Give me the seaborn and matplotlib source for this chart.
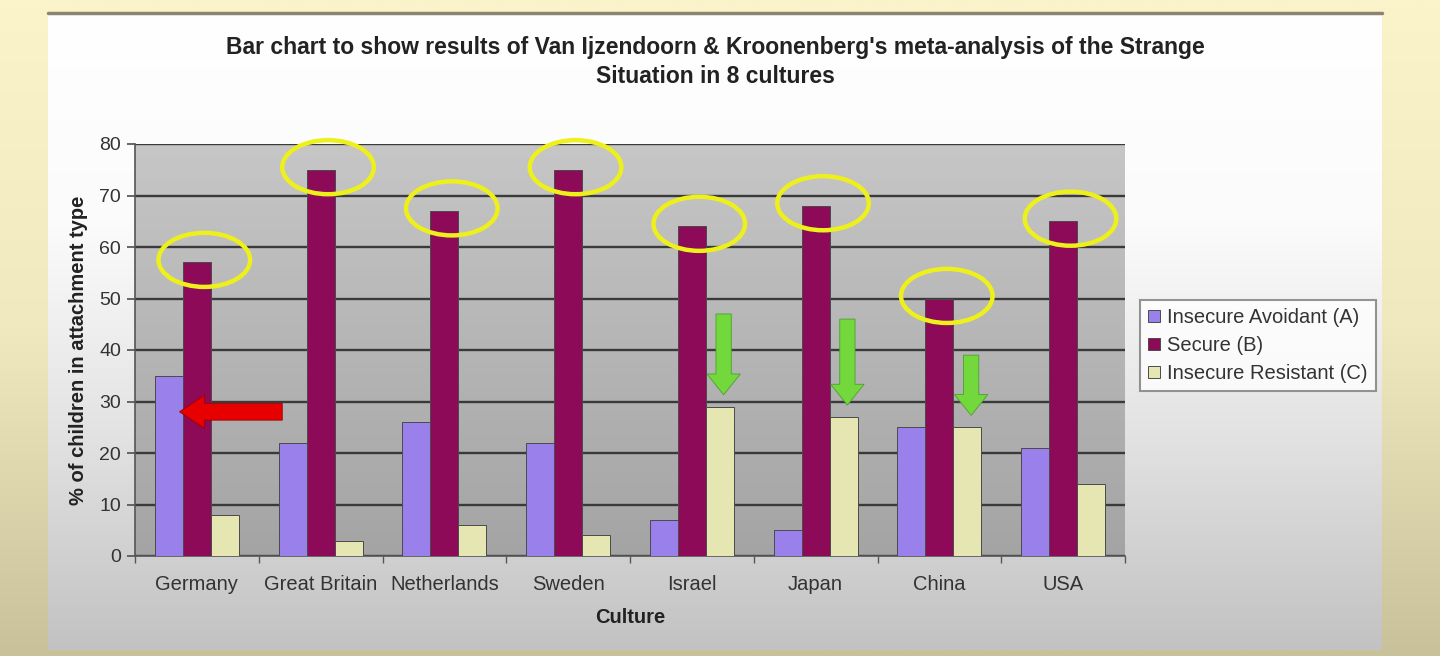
import numpy as np
import pandas as pd
import matplotlib
matplotlib.use("Agg")
import matplotlib.pyplot as plt
import seaborn as sns
from matplotlib.patches import Ellipse, FancyArrowPatch, ArrowStyle
from matplotlib.colors import LinearSegmentedColormap

# data
cultures = ["Germany", "Great Britain", "Netherlands", "Sweden",
            "Israel", "Japan", "China", "USA"]
avoidant = [35, 22, 26, 22, 7, 5, 25, 21]
secure = [57, 75, 67, 75, 64, 68, 50, 65]
resistant = [8, 3, 6, 4, 29, 27, 25, 14]
types = ["Insecure Avoidant (A)", "Secure (B)", "Insecure Resistant (C)"]
colors = ["#9a80ea", "#8c0a58", "#e6e6b2"]

# hand-drawn marks on the slide
red_arrow_at = ("Germany", 28)           # points at the avoidant bar
green_arrows = {"Israel": 47, "Japan": 46, "China": 39}   # tail height above resistant bar

df = pd.DataFrame({
    "Culture": cultures * 3,
    "pct": avoidant + secure + resistant,
    "Type": [t for t in types for _ in cultures],
})

sns.set_theme(style="white")
plt.rcParams["font.family"] = ["Liberation Sans", "DejaVu Sans"]

W, H = 1440, 656
fig = plt.figure(figsize=(W / 100, H / 100), dpi=100)

# slide background (yellow gradient)
bg = fig.add_axes([0, 0, 1, 1], zorder=-10)
bg_cmap = LinearSegmentedColormap.from_list("bg", ["#c9c199", "#f0e8bf", "#fbf3c9"])
bg.imshow(np.linspace(0, 1, 256)[:, None], cmap=bg_cmap, aspect="auto",
          origin="lower", extent=[0, 1, 0, 1])
bg.axis("off")

# chart panel (white -> grey)
px0, px1, py0, py1 = 48, 1382, 650, 13
panel = fig.add_axes([px0 / W, 1 - py0 / H, (px1 - px0) / W, (py0 - py1) / H], zorder=-9)
panel_cmap = LinearSegmentedColormap.from_list("panel", ["#c2c2c2", "#e2e2e2", "#fbfbfb", "#ffffff"])
panel.imshow(np.linspace(0, 1, 256)[:, None], cmap=panel_cmap, aspect="auto",
             origin="lower", extent=[0, 1, 0, 1])
panel.axis("off")
fig.add_artist(plt.Line2D([px0 / W, px1 / W], [1 - py1 / H, 1 - py1 / H],
                          color="#8a8470", lw=2.5, transform=fig.transFigure))

# plot area
ax_rect = [135 / W, 1 - 556 / H, (1125 - 135) / W, (556 - 144) / H]
plot_bg = fig.add_axes(ax_rect, zorder=-5)
plot_cmap = LinearSegmentedColormap.from_list("plot", ["#a4a4a4", "#c6c6c6"])
plot_bg.imshow(np.linspace(0, 1, 256)[:, None], cmap=plot_cmap, aspect="auto",
               origin="lower", extent=[0, 1, 0, 1])
plot_bg.axis("off")

ax = fig.add_axes(ax_rect)
ax.set_facecolor("none")

bar_w = 0.68
sns.barplot(data=df, x="Culture", y="pct", hue="Type", palette=colors, saturation=1,
            width=bar_w, edgecolor="#4a4a4a", linewidth=0.7, ax=ax, zorder=3)

ax.set_ylim(0, 80)
ax.set_xlim(-0.5, len(cultures) - 0.5)
ax.set_yticks(range(0, 81, 10))
ax.yaxis.grid(True, color="#3a3a3a", lw=1.7)
ax.set_axisbelow(True)
for s in ["top", "right"]:
    ax.spines[s].set_visible(False)
for s in ["left", "bottom"]:
    ax.spines[s].set_color("#555555")
    ax.spines[s].set_linewidth(1.2)

ax.tick_params(axis="x", length=0, pad=14, labelsize=14.5, labelcolor="#333333")
ax.set_xticks(np.arange(-0.5, len(cultures), 1), minor=True)
ax.tick_params(axis="x", which="minor", length=5, direction="out", color="#555555", bottom=True)
ax.tick_params(axis="y", length=6, direction="out", color="#555555", left=True,
               labelsize=14, labelcolor="#333333", pad=4)

ax.set_xlabel("Culture", fontsize=14.5, fontweight="bold", color="#222222", labelpad=10)
ax.set_ylabel("% of children in attachment type", fontsize=14.5, fontweight="bold",
              color="#222222", labelpad=8)

fig.text(715 / W, 1 - 62 / H,
         "Bar chart to show results of Van Ijzendoorn & Kroonenberg's meta-analysis of the Strange\n"
         "Situation in 8 cultures",
         ha="center", va="center", fontsize=16.5, fontweight="bold", color="#222222",
         linespacing=1.3)

leg = ax.legend(loc="upper left", bbox_to_anchor=(1140 / W, 1 - 300 / H),
                bbox_transform=fig.transFigure, fontsize=14.5, frameon=True,
                fancybox=False, edgecolor="#7a7a7a", facecolor="white",
                handlelength=0.6, handleheight=0.6, handletextpad=0.35,
                labelspacing=0.45, borderpad=0.4, borderaxespad=0)
leg.get_frame().set_linewidth(1.5)
for t in leg.get_texts():
    t.set_color("#333333")

# yellow circles round the secure bars
for i, v in enumerate(secure):
    ax.add_patch(Ellipse((i + 0.06, v + 0.5), 0.74, 10.5, fill=False, clip_on=False,
                         edgecolor="#eef01c", lw=3.2, zorder=6))

# red arrow pointing at Germany avoidant bar
gi = cultures.index(red_arrow_at[0])
ax.add_patch(FancyArrowPatch((gi + 0.69, red_arrow_at[1]), (gi - 0.14, red_arrow_at[1]),
                             arrowstyle=ArrowStyle.Simple(head_length=18, head_width=24,
                                                          tail_width=12),
                             mutation_scale=1, color="#e60000", ec="#a00000", lw=0.6,
                             shrinkA=0, shrinkB=0, zorder=7))

# green arrows down onto resistant bars
for name, top in green_arrows.items():
    i = cultures.index(name)
    x = i + bar_w / 3 + 0.03
    ax.add_patch(FancyArrowPatch((x, top), (x, resistant[i] + 2.3),
                                 arrowstyle=ArrowStyle.Simple(head_length=15, head_width=24,
                                                              tail_width=11),
                                 mutation_scale=1, color="#72d83c", ec="#4e9e2e", lw=0.6,
                                 shrinkA=0, shrinkB=0, zorder=7))

fig.savefig("out.png", dpi=100)
